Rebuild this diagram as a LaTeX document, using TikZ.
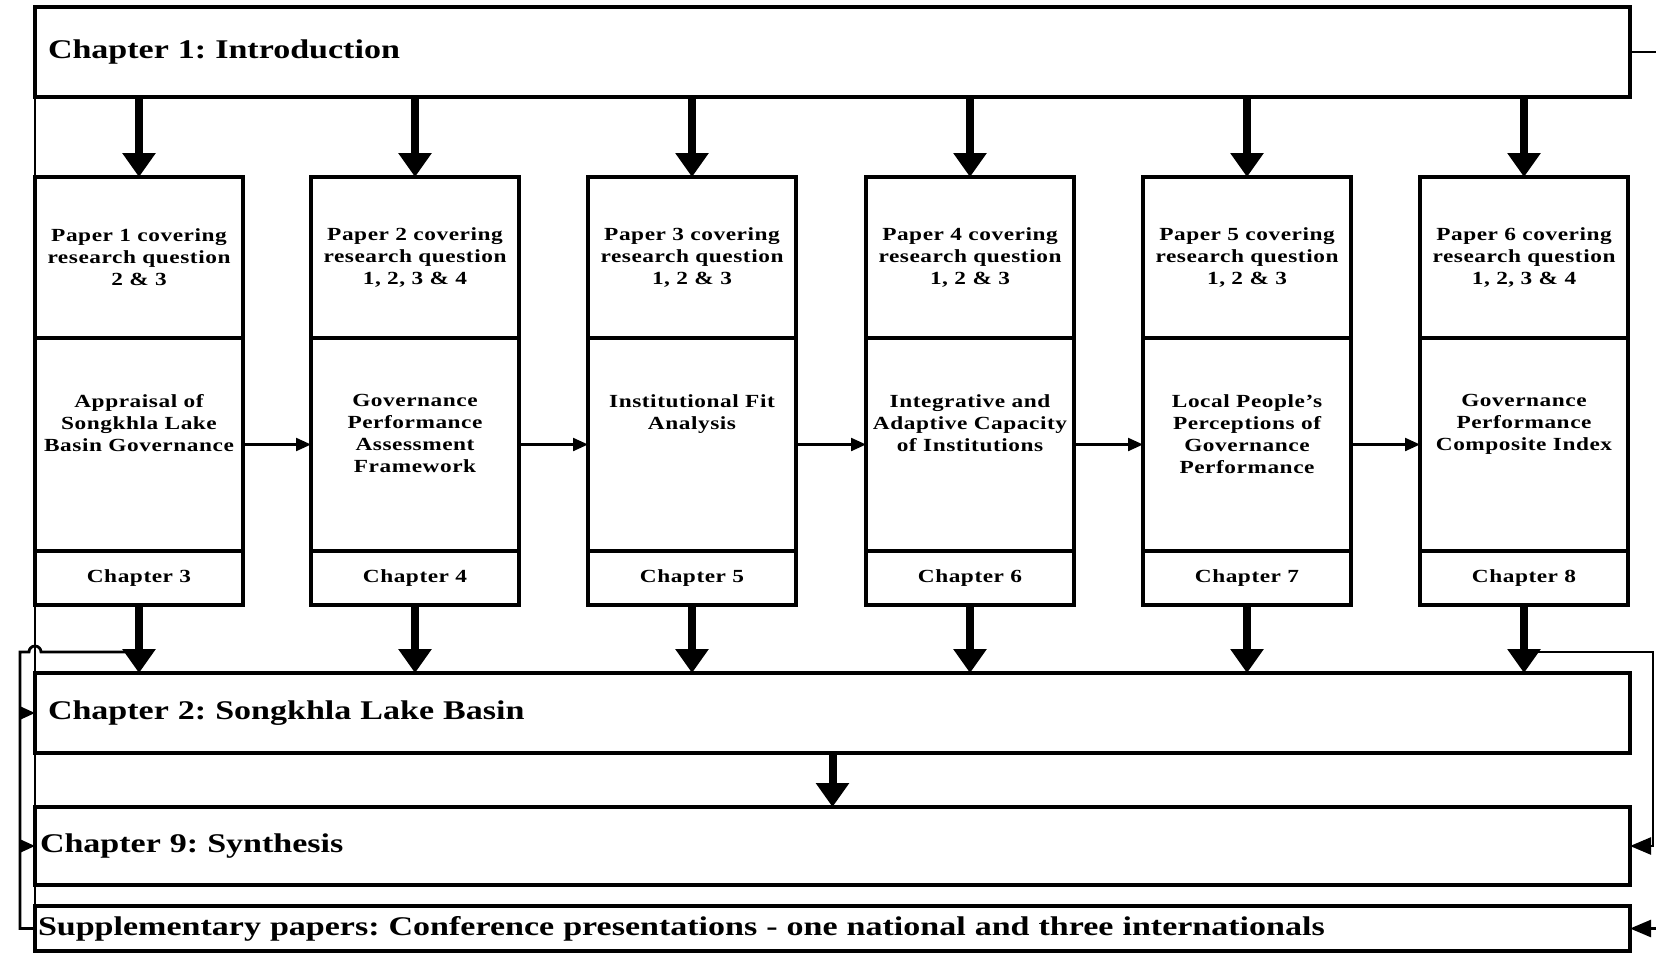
\documentclass[tikz,border=0pt]{standalone}
\usepackage{fontspec}
\setmainfont{Liberation Serif}[FakeStretch=1.26]
\newfontfamily\boxfont{Liberation Serif}[FakeStretch=1.26,LetterSpace=3]
\usetikzlibrary{arrows.meta,calc}
\begin{document}
\frenchspacing
\begin{tikzpicture}[x=1pt,y=-1pt,
  box/.style={draw,line width=3.5pt,inner sep=0pt,outer sep=0pt,anchor=north west,minimum width=208pt},
  tbox/.style={draw,line width=3.5pt,anchor=north west,inner ysep=0pt,inner xsep=13pt,outer sep=0pt,
    text width=1569pt,align=left,minimum height=#1,font=\fontsize{27}{32}\selectfont\bfseries},
  ptext/.style={align=center,inner sep=0pt,font=\boxfont\fontsize{18.5}{22}\selectfont\bfseries},
  bigarrow/.style={line width=8pt,-{Triangle[width=32pt,length=24pt]}},
  smallarrow/.style={line width=2.2pt,-{Triangle[width=13pt,length=15pt]}},
  medarrow/.style={line width=2.5pt,-{Triangle[width=17pt,length=21pt]}},
  conn/.style={line width=2.2pt}]
\useasboundingbox (0,0) rectangle (1656,953);
\fill[white] (0,0) rectangle (1656,953);

\node[tbox=90pt] (ch1) at (35,7) {Chapter 1: Introduction};
\node[tbox=80pt] (ch2) at (35,673) {Chapter 2: Songkhla Lake Basin};
\node[tbox=78pt,inner xsep=5pt,text width=1585pt] (ch9) at (35,807) {Chapter 9: Synthesis};
\node[tbox=45pt,inner xsep=3pt,text width=1589pt] (supp) at (35,906) {Supplementary papers: Conference presentations - one national and three internationals};

\draw[conn] (ch1.south west) -- (supp.north west);

\foreach \i/\L/\tp/\md/\ch in {
  1/35/{Paper 1 covering\\research question\\2 \& 3}/{Appraisal of\\Songkhla Lake\\Basin Governance}/3,
  2/311/{Paper 2 covering\\research question\\1, 2, 3 \& 4}/{Governance\\Performance\\Assessment\\Framework}/4,
  3/588/{Paper 3 covering\\research question\\1, 2 \& 3}/{Institutional Fit\\Analysis}/5,
  4/866/{Paper 4 covering\\research question\\1, 2 \& 3}/{Integrative and\\Adaptive Capacity\\of Institutions}/6,
  5/1143/{Paper 5 covering\\research question\\1, 2 \& 3}/{Local People’s\\Perceptions of\\Governance\\Performance}/7,
  6/1420/{Paper 6 covering\\research question\\1, 2, 3 \& 4}/{Governance\\Performance\\Composite Index}/8}{
  \node[box,minimum height=161pt] (p\i t) at (\L,177) {};
  \node[ptext] (p\i tt) at (p\i t.center) {\tp};
  \node[box,minimum height=213pt] (p\i m) at (\L,338) {};
  \node[ptext,anchor=north] (p\i mt) at ($(p\i m.north)+(0,56)$) {\md};
  \node[box,minimum height=54pt] (p\i b) at (\L,551) {};
  \node[ptext] (p\i bt) at (p\i b.center) {Chapter \ch};
  \draw[bigarrow] (ch1.south -| p\i t.north) -- (p\i t.north);
  \draw[bigarrow] (p\i b.south) -- (ch2.north -| p\i b.south);
}
\foreach \i/\j in {1/2,2/3,3/4,4/5,5/6}{
  \draw[smallarrow] (p\i m.east) -- (p\j m.west);
}
\draw[bigarrow] (ch2.south) -- (ch9.north);

% left feedback loop
\coordinate (jL) at (20,652);
\draw[conn,line width=2.8pt] (p1b.south |- jL) -- (41,652) arc[start angle=0,end angle=-180,radius=6] -- (jL) -- (jL |- supp.west) -- (supp.west);
\draw[smallarrow] (jL |- ch2.west) -- (ch2.west);
\draw[smallarrow] (jL |- ch9.west) -- (ch9.west);

% right connectors
\coordinate (jR) at (1653,652);
\coordinate (eR) at (1663,52);
\draw[medarrow] (p6b.south |- jR) -- (jR) -- (jR |- ch9.east) -- (ch9.east);
\draw[medarrow] (ch1.east) -- (ch1.east -| eR) -- (eR |- supp.east) -- (supp.east);
\end{tikzpicture}
\end{document}
